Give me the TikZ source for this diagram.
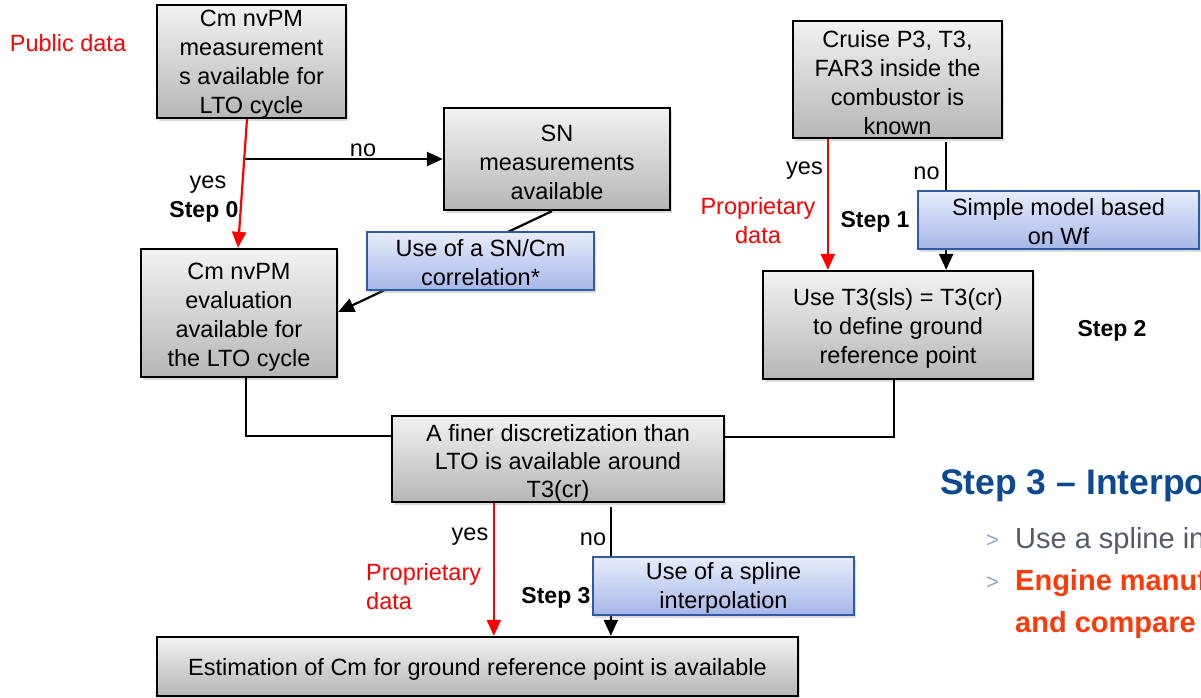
\documentclass[tikz,border=0pt]{standalone}
\usepackage{fontspec}
\setmainfont{Liberation Sans}
\usetikzlibrary{arrows.meta,shadows,calc}
\definecolor{boxtop}{HTML}{F2F2F2}
\definecolor{boxbot}{HTML}{B6B6B6}
\definecolor{bluetop}{HTML}{E8EDFB}
\definecolor{bluebot}{HTML}{A6B6E7}
\definecolor{blueline}{HTML}{2F5AA6}
\definecolor{titleblue}{HTML}{0B4A93}
\definecolor{bulletgray}{HTML}{555A6B}
\definecolor{bulletmark}{HTML}{8EA5CC}
\definecolor{engred}{HTML}{FF3A0A}
\tikzset{
  txt/.style={font=\fontsize{23.5}{29}\selectfont, inner sep=0pt, align=center},
  btxt/.style={font=\fontsize{23}{29}\selectfont\bfseries, inner sep=0pt, align=center},
  redtxt/.style={txt, text=red},
  graybox/.style={draw=black, line width=2.3pt, top color=boxtop, bottom color=boxbot,
    drop shadow={opacity=0.28, shadow xshift=2pt, shadow yshift=-3pt}},
  bluebox/.style={draw=blueline, line width=2.2pt, top color=bluetop, bottom color=bluebot,
    drop shadow={opacity=0.28, shadow xshift=2pt, shadow yshift=-3pt}},
  blackarrow/.style={line width=2.2pt, draw=black, -{Triangle[length=16pt,width=14pt]}},
  redarrow/.style={line width=2.2pt, draw=red, -{Triangle[length=16pt,width=14pt]}},
  plainline/.style={line width=2.2pt, draw=black},
}
\begin{document}
\begin{tikzpicture}[x=1pt, y=-1pt]
\useasboundingbox (0,0) rectangle (1201,698);
\clip (0,0) rectangle (1201,698);

% ---- left part ----
\node[graybox, minimum width=189pt, minimum height=113pt] (A) at (251.5,61.5) {};
\node[txt] (At) at ([yshift=-3pt]A.center) {Cm nvPM\\measurement\\s available for\\LTO cycle};
\node[graybox, minimum width=226pt, minimum height=102pt] (SN) at (557,159) {};
\node[txt] (SNt) at ([yshift=-3pt]SN.center) {SN\\measurements\\available};
\node[graybox, minimum width=196pt, minimum height=128pt] (B) at (239,313) {};
\node[txt] (Bt) at ([yshift=-4pt]B.center) {Cm nvPM\\evaluation\\available for\\the LTO cycle};

\coordinate (nostart) at (245,159);
\draw[redarrow] ([xshift=-4.5pt]A.south) -- ([xshift=-1pt]B.north);
\draw[blackarrow] (nostart) -- (SN.west);
\draw[blackarrow] ([xshift=-5pt]SN.south) -- ([yshift=1pt]B.east);
\node[bluebox, minimum width=227pt, minimum height=58pt] (corr) at (480.5,261) {};
\node[txt] (corrt) at ([yshift=-1.5pt]corr.center) {Use of a SN/Cm\\correlation*};

\node[redtxt] (pub) at (68,43) {Public data};
\node[txt] (noA) at (363,150) {no};
\node[txt] (yesA) at (208,185) {yes};
\node[btxt] (s0) at (204,212) {Step 0};

% ---- right part ----
\node[graybox, minimum width=209pt, minimum height=117pt] (C) at (897.5,79.5) {};
\node[txt] (Ct) at ([yshift=-3pt]C.center) {Cruise P3, T3,\\FAR3 inside the\\combustor is\\known};
\node[graybox, minimum width=270pt, minimum height=108pt] (D) at (898,325) {};
\node[txt] (Dt) at ([yshift=-3pt]D.center) {Use T3(sls) = T3(cr)\\to define ground\\reference point};
\draw[redarrow] ([xshift=36pt]C.south west) -- ([xshift=36pt]C.south west |- D.north);
\draw[blackarrow] ([xshift=-57pt,yshift=-3pt]C.south east) -- ([xshift=-57pt]C.south east |- D.north);
\node[bluebox, minimum width=281pt, minimum height=58pt] (wf) at (1058.5,220) {};
\node[txt] (wft) at ([yshift=-2pt]wf.center) {Simple model based\\on Wf};

\node[txt] (yesC) at (804.5,171) {yes};
\node[txt] (noC) at (926.5,173) {no};
\node[redtxt] (propC) at (758,221) {Proprietary\\data};
\node[btxt] (s1) at (875,222) {Step 1};
\node[btxt] (s2) at (1112,331) {Step 2};

% ---- bottom part ----
\node[graybox, minimum width=332pt, minimum height=86pt] (E) at (558,459) {};
\node[txt, font=\fontsize{23.5}{28}\selectfont] (Et) at ([yshift=-4pt]E.center)
  {A finer discretization than\\LTO is available around\\T3(cr)};
\node[graybox, minimum width=641pt, minimum height=59pt] (F) at (477.5,666.5) {};
\node[txt] (Ft) at ([yshift=-3pt]F.center) {Estimation of Cm for ground reference point is available};

\draw[plainline] ([xshift=7pt]B.south) |- ([yshift=23pt]E.west);
\draw[plainline] ([xshift=-4pt]D.south) |- ([yshift=22pt]E.east);
\draw[redarrow] ([xshift=103pt]E.south west) -- ([xshift=103pt]E.south west |- F.north);
\draw[blackarrow] ([xshift=220pt,yshift=-4pt]E.south west) -- ([xshift=220pt]E.south west |- F.north);
\node[bluebox, minimum width=261pt, minimum height=58pt] (spl) at (723.5,586) {};
\node[txt] (splt) at ([yshift=-2pt]spl.center) {Use of a spline\\interpolation};

\node[txt] (yesE) at (470,537) {yes};
\node[txt] (noE) at (593,539) {no};
\node[redtxt, align=left, anchor=west] (propE) at (366,587) {Proprietary\\data};
\node[btxt] (s3) at (556,598) {Step 3};

% ---- slide text on the right ----
\node[anchor=base west, inner sep=0pt, text=titleblue, font=\fontsize{35.5}{40}\selectfont\bfseries]
  (title) at (940,494) {Step 3 – Interpo};
\node[anchor=base west, inner sep=0pt, text=bulletmark, font=\fontsize{22}{26}\selectfont]
  (m1) at (986,547) {>};
\node[anchor=base west, inner sep=0pt, text=bulletgray, font=\fontsize{29}{35}\selectfont]
  (b1) at (1015,548) {Use a spline in};
\node[anchor=base west, inner sep=0pt, text=bulletmark, font=\fontsize{22}{26}\selectfont]
  (m2) at (986,589) {>};
\node[anchor=base west, inner sep=0pt, text=engred, font=\fontsize{29}{35}\selectfont\bfseries]
  (b2) at (1015,590) {Engine manuf};
\node[anchor=base west, inner sep=0pt, text=engred, font=\fontsize{29}{35}\selectfont\bfseries]
  (b3) at (1015,632) {and compare};
\end{tikzpicture}
\end{document}
